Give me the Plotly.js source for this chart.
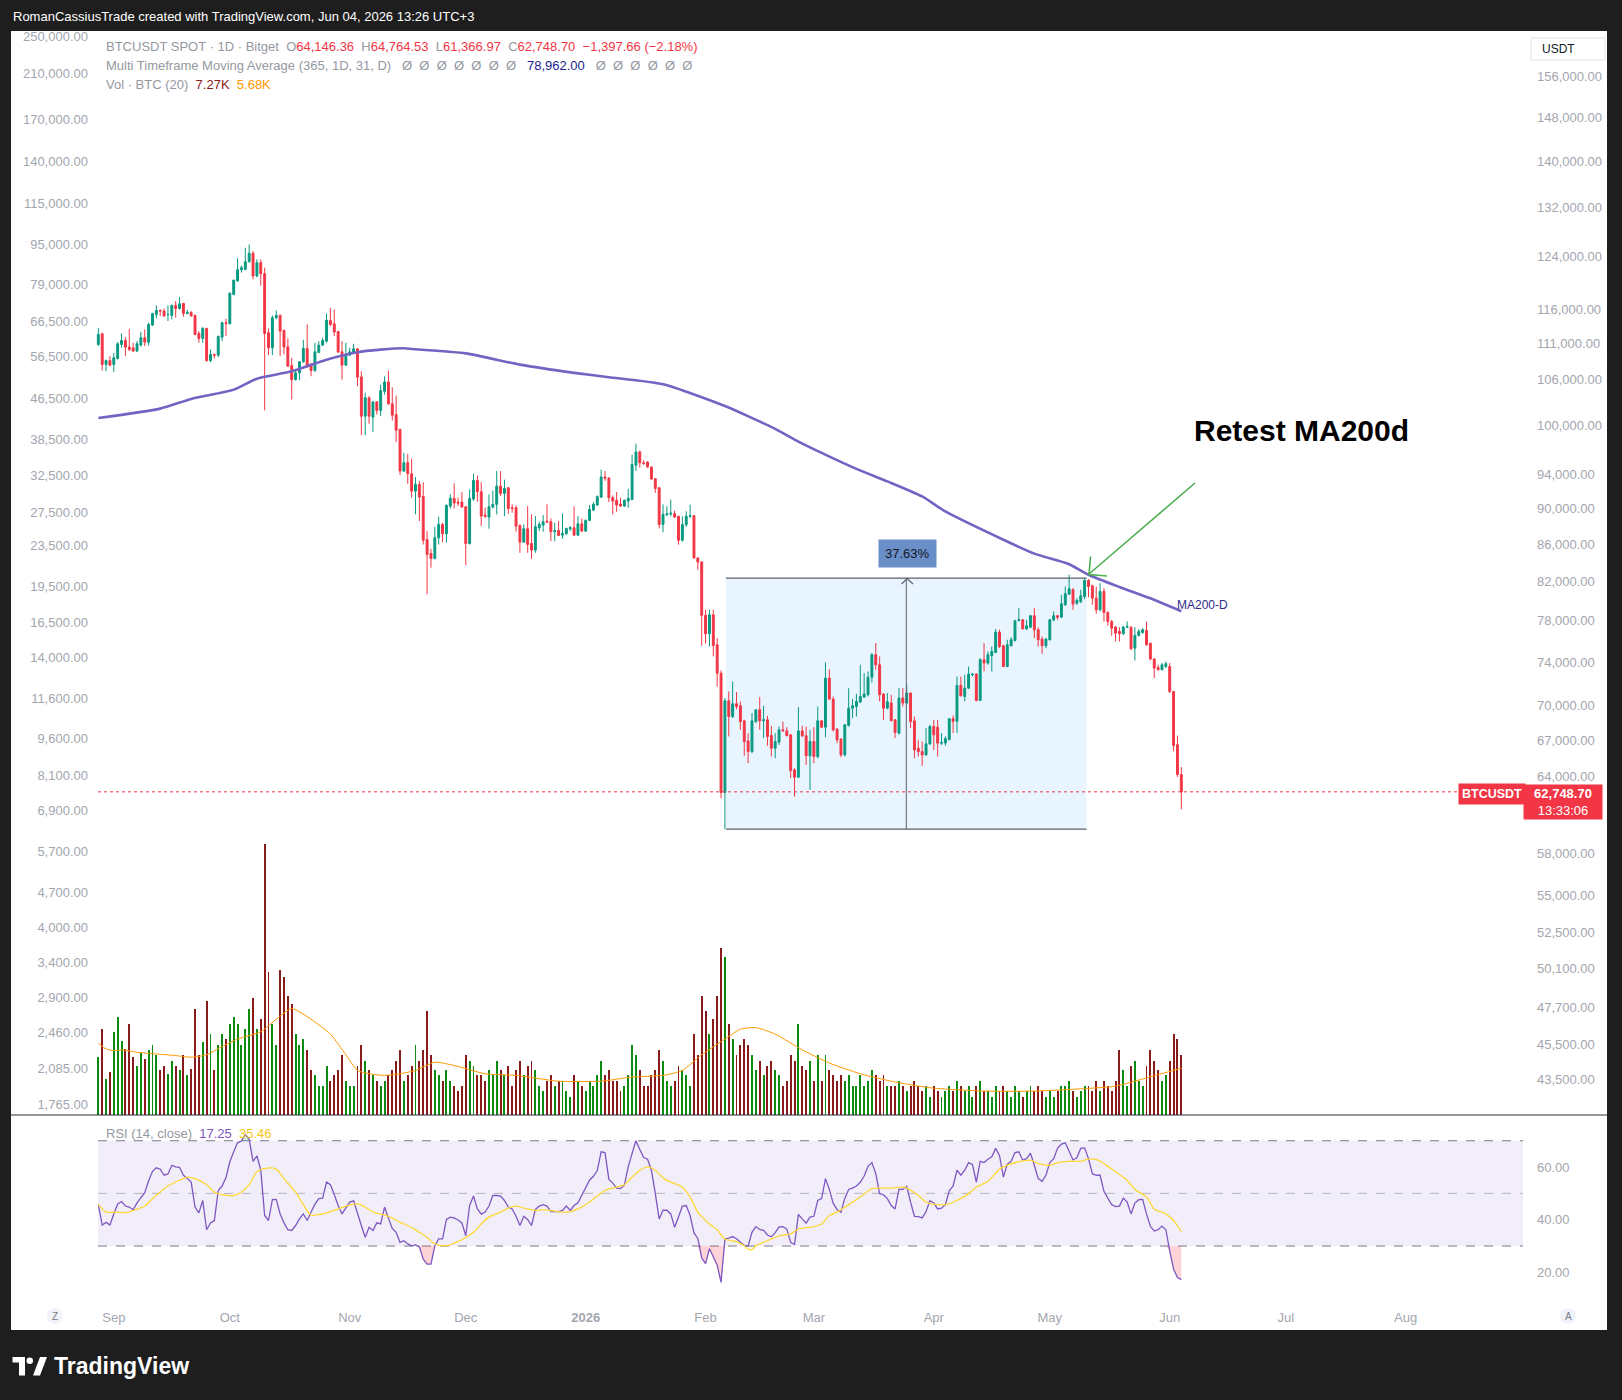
<!DOCTYPE html>
<html>
<head>
<meta charset="utf-8">
<script src="https://cdn.plot.ly/plotly-3.0.1.min.js"></script>
<style>
html,body{margin:0;padding:0;background:#1e1e1e;}
#chart{width:1622px;height:1400px;}
</style>
</head>
<body>
<div id="chart"></div>
<script>
// ================= DATA =================
// Daily BTCUSDT bars (Bitget), first bar = Aug 28, 2025
const firstBarUTC = Date.UTC(2025, 7, 28);

const openP = [
110880,112400,108090,108640,108090,108920,110880,111450,110510,110410,
109950,110790,111830,111210,113650,115200,115790,115700,115160,115060,
116530,116080,116830,115350,115500,115060,112450,111730,113170,108640,
109480,109390,111920,114000,113850,118170,120230,121950,122000,123200,
124520,120980,123050,121340,112540,110410,114720,115060,112880,110550,
107950,106040,106950,108460,110320,108090,107260,109760,110790,111350,
114340,113850,112730,109850,108000,109390,109710,110270,106400,101210,
103600,101080,103070,101960,104460,105710,102810,101410,99500,94380,
95390,94060,92010,92790,91390,86510,84990,84450,86700,88190,
87140,90270,91160,90730,90730,90200,86070,91080,93260,91930,
89240,89010,90160,90470,92590,91740,92400,90080,90080,88070,
86220,87700,86070,85350,87810,88110,88560,88490,87370,87510,
86990,87140,87700,87810,86990,88260,87440,88640,89810,90390,
91310,93670,93540,91240,90930,90510,90270,90850,91040,95080,
96700,95390,95470,94870,93470,92400,88190,89290,89350,89400,
89100,86420,88160,89100,89170,84500,84070,78550,76730,78610,
75660,72980,62690,70460,69060,70190,70010,68680,66950,66050,
68620,69650,68680,68770,67410,66330,66840,67900,67810,67470,
64530,63930,67810,67390,65690,66900,65630,68680,68130,72520,
70610,67960,67100,65770,68280,69800,69950,70340,70790,71000,
72610,74710,73760,71060,69800,70250,68770,67610,70700,70250,
71150,68680,66330,66050,65770,66700,68190,68130,66760,66770,
67060,68870,68640,71850,70850,71600,72830,72890,70490,74230,
73920,74610,74930,76890,75570,73600,75570,76080,78040,78110,
77190,77380,78510,77120,76210,75570,76150,78110,78510,78370,
79610,80700,81150,79780,79950,80460,82120,81560,80290,79110,
80980,78840,77940,77380,76960,76730,77380,77380,75340,76570,
76860,77060,75820,74300,73510,73290,73600,73600,71300,66630,
64146.36];

const highP = [
113260,112540,108780,109250,109710,111210,112450,111920,113120,111120,
111350,112690,113020,114000,115450,116530,115940,116080,116530,116670,
117180,117800,116920,115890,115700,115200,112780,113360,113260,110180,
109570,112160,114150,114580,118420,120430,123720,122620,125410,125940,
124880,123570,123570,122270,113170,115060,115790,115200,113020,111730,
109020,107400,108550,111540,113740,108320,111120,111350,111830,115350,
116180,115940,112780,111350,111120,110410,110980,110360,107170,104280,
103820,103160,103160,105370,106480,107250,104990,103900,99630,96600,
96480,95870,93660,93180,93060,87440,85490,87920,89050,88370,
90470,91620,92910,91240,91890,90270,92200,94070,93840,93060,
90080,91620,92080,94380,94380,93350,92480,90470,90350,88190,
88190,90270,89320,89130,88490,89240,90470,88860,88370,88560,
89430,87810,88000,90240,89130,88860,88750,90390,90730,91510,
94550,94380,93670,91510,91890,91240,91040,92280,96380,97730,
96870,95710,95590,94950,93540,92480,90470,90240,91010,89740,
89170,89100,89670,90430,89250,84600,84140,79110,79110,79110,
76310,73230,70700,71300,72210,71240,70400,68770,67610,69360,
69710,70790,70010,69120,68250,67610,68190,68620,68130,67500,
64660,69890,68250,68190,67900,68130,69950,68770,73980,73350,
70850,68050,67190,68400,71600,70610,71090,73760,72980,73140,
74870,75830,74550,71150,71150,71000,68830,71600,71600,71910,
71210,69060,67040,66900,68050,68340,68770,68770,67610,67340,
68930,69160,72670,72670,72830,73600,72980,72980,74390,75820,
75020,75500,77190,77120,75660,76150,76400,78110,79280,78170,
78110,78610,79280,77350,76470,76310,78170,78940,78610,80630,
81490,82710,81320,80290,81150,82360,82260,81670,81490,81840,
81320,78940,78110,77510,77380,77510,77940,77450,77380,77190,
77280,77940,75820,74390,73760,73920,74080,73920,71300,67400,
64764.53];

const lowP = [
110650,107260,107170,107860,107080,108780,110410,109250,109950,109850,
109850,110600,110650,110740,113500,114620,114970,114920,114240,114480,
114720,115940,114870,115200,114920,112200,111120,111120,108460,108410,
108920,109110,111350,112060,113740,118040,120130,121500,121850,123050,
120480,120800,119480,101960,109390,109390,114480,109250,109480,107810,
103380,105900,105950,108370,107630,106490,107100,109710,110650,111120,
113500,112060,109710,106040,107900,109250,109620,105140,98790,98790,
100230,99220,101420,101210,104030,102710,100640,97910,93900,94300,
92870,91240,89320,88560,85960,80700,83460,84350,85960,86220,
86150,90000,90000,90270,90080,83740,85950,90850,90770,88000,
88940,87700,90000,89320,91430,89130,89390,89510,87370,85060,
86150,85060,84410,85060,87440,87370,88370,86330,86330,86880,
86590,87070,87440,86880,86900,87370,87330,88560,89700,90300,
91200,93220,90730,89320,89620,90200,90160,90080,90950,94380,
94790,95160,94790,93350,91810,87740,87330,89100,89100,88910,
85940,86300,87900,88910,84410,83250,75570,75760,75500,74550,
71750,62240,59840,67330,68920,69710,67900,65690,65080,65910,
68480,67900,67190,66530,65630,65490,66610,67760,67330,63850,
62370,63850,67270,64940,62900,65080,65490,68050,67270,70550,
67760,66760,65580,65630,68190,68920,69060,70250,70700,70850,
72120,73290,70400,68770,69710,68620,67190,67500,69950,70100,
68050,65490,65630,64860,65690,66610,66190,65630,66610,66550,
67000,67630,67630,70850,70400,71510,72670,70400,70460,73140,
73760,73140,74860,75340,73540,73540,75500,75980,77940,77120,
77120,77280,76310,75500,74800,75340,76080,77940,78110,78270,
79510,80630,79110,79610,79780,80190,80390,79610,78710,78940,
77940,77510,76530,75980,75980,76630,77280,75180,74170,76470,
76730,75570,74170,72520,73230,73230,73450,71150,66070,63950,
61366.97];

const closeP = [
112300,108090,108640,108000,109020,110980,111450,110510,110180,109950,
110980,111830,111210,113740,115300,115790,115700,114970,115200,116530,
116080,116780,115350,115500,114970,112300,111730,113170,108640,109480,
109390,112020,114000,113850,118380,120330,121950,122270,123200,124520,
120980,123050,121340,112450,110410,114720,115060,112780,110510,107860,
106040,106950,108460,110320,107860,107260,109850,110790,111450,114340,
113740,112640,109810,108000,109480,109850,110270,106360,101210,103600,
101210,103070,101960,104560,105710,102810,101330,99420,94380,95390,
94060,92010,92790,91310,86440,84880,84450,86700,88190,87140,
90350,91160,90620,90620,90160,86070,91160,93260,91930,89130,
89090,90200,90470,92590,91740,92320,90000,90000,88000,86220,
87700,85960,85350,87920,88190,88490,88450,87370,87510,86960,
87180,87740,87810,86990,88260,87440,88640,89890,90470,91350,
93670,93540,91240,90850,90390,90270,90930,91160,95160,96700,
95390,95270,94870,93430,92320,88190,89320,89400,89450,89020,
86420,88160,89100,89170,84500,84070,78550,76730,78610,75600,
72980,62690,70460,69060,70190,69950,68620,66900,66050,68680,
69650,68680,68770,67330,66330,66900,67900,67810,67410,64470,
63930,67810,67390,65690,66900,65630,68680,68130,72520,70610,
67900,67040,65770,68340,69800,70010,70400,70850,71060,72610,
74710,73760,71000,69800,70370,68710,67670,70700,70250,71150,
68620,66190,66050,65770,66700,68190,67470,66760,66810,67140,
68870,68640,71850,70910,71600,72890,72890,70490,74230,73920,
74710,75020,76890,75500,73600,75660,76150,78010,78110,77220,
77510,78510,77120,76150,75570,76210,78110,78510,78370,79720,
80740,81250,79680,80050,80530,82120,81490,80290,79110,80980,
78840,77940,77280,76790,76730,77380,77450,75280,76570,76960,
77120,75660,74300,73450,73290,73760,73860,71300,66570,64146.36,
62748.70];

// 200-day moving average (read at bar indices)
const ma200Idx = [0,16,24,35,41,50,59,67,73,79,82,95,109,123,132,146,162,175,180,187,196,204,213,219,234,242,251,256,264,272,280];
const ma200Val = [100980,102190,103460,104690,106160,107150,108760,109800,110150,110340,110200,109630,108070,106950,106360,105400,102520,99590,98240,96590,94640,93150,91380,89650,86480,84970,83830,82720,81440,80270,78962];

// Volume (thousand BTC), one per bar
const volumeK = [
7.0,10.4,4.4,5.2,10.1,11.9,9.0,8.0,11.0,7.0,
6.0,7.5,6.8,7.9,8.5,7.3,5.5,6.0,5.0,6.6,
6.0,5.4,7.3,4.8,5.6,12.9,7.3,8.8,13.8,9.8,
5.4,8.5,9.8,9.2,11.0,11.9,11.0,8.5,10.4,12.9,
14.2,10.4,11.6,32.8,17.3,11.0,8.5,17.6,16.7,14.4,
13.5,9.8,8.5,9.2,7.9,5.4,4.8,3.5,3.5,6.0,
4.1,4.8,5.4,7.3,4.1,3.5,3.5,6.0,8.5,6.6,
5.4,4.8,4.1,3.5,4.1,4.8,5.4,6.6,7.9,4.1,
4.8,6.0,8.5,6.6,7.9,12.6,7.3,5.4,4.8,4.1,
5.4,4.1,3.5,2.9,3.5,7.3,6.6,6.0,4.8,4.8,
4.1,5.4,4.8,6.6,5.4,4.8,6.0,3.5,5.4,6.6,
4.8,6.0,6.6,5.4,3.5,2.9,4.1,4.8,3.5,4.1,
4.1,2.9,2.2,4.8,4.1,3.5,2.9,4.1,3.5,4.8,
6.6,4.8,5.4,4.1,4.1,2.9,3.5,4.8,8.5,7.3,
5.4,3.5,3.5,4.8,5.4,7.9,6.6,4.1,3.5,4.1,
6.0,5.4,4.8,3.5,9.8,7.3,14.4,12.6,9.8,11.6,
14.4,20.3,19.2,11.0,9.2,7.3,8.5,9.2,8.5,7.3,
5.4,6.6,4.8,6.0,6.6,5.4,4.8,3.5,4.1,7.3,
6.6,11.0,6.0,5.4,6.6,4.1,7.3,4.1,7.3,5.4,
4.8,4.1,4.8,4.1,4.8,3.5,3.5,4.8,3.5,4.1,
5.4,4.8,4.1,4.8,3.5,3.5,3.5,4.1,3.5,2.9,
3.5,4.1,3.5,2.9,3.5,2.2,3.5,2.9,2.2,2.9,
3.5,2.9,4.1,3.5,2.9,3.5,2.2,3.5,4.1,2.9,
2.9,2.2,3.5,2.9,3.5,2.9,2.2,3.5,2.9,2.2,
2.9,3.5,2.9,3.5,2.9,2.2,2.9,2.2,2.9,3.5,
3.5,4.1,2.9,2.2,2.9,3.5,3.5,2.9,4.1,2.9,
4.1,3.5,2.9,4.1,7.9,5.4,3.5,6.0,6.6,4.1,
3.5,6.0,7.9,6.6,5.4,4.1,4.8,6.6,9.8,9.2,
7.27];

// Volume MA(20) (read at bar indices)
const volMaIdx = [0,2,4,6,10,15,20,24,28,32,36,42,46,50,55,60,64,67,70,74,78,82,87,92,100,108,119,130,138,146,151,156,162,166,170,175,182,189,197,205,215,229,242,255,263,271,280];
const volMaVal = [8.7,8.0,7.8,7.9,7.6,7.4,7.2,7.0,7.3,8.3,9.2,10.1,11.6,12.9,11.6,9.8,7.3,5.4,5.0,4.8,5.0,5.4,6.4,6.0,5.0,4.8,4.1,4.1,4.6,4.8,5.4,7.3,9.2,10.4,10.6,9.8,7.9,6.3,5.0,4.1,3.3,2.9,2.9,3.2,3.5,4.5,5.68];

// RSI(14) daily
const rsi = [
45.7,38.0,39.0,38.0,42.2,46.0,46.9,45.2,44.8,43.8,
46.4,48.5,50.3,54.8,58.4,59.7,59.2,56.9,57.4,60.7,
60.1,59.9,56.9,55.7,54.3,44.8,42.6,47.3,36.2,38.8,
39.7,51.1,52.8,56.0,62.0,65.8,69.2,69.9,72.4,70.6,
62.2,64.3,58.8,41.6,39.7,47.6,47.7,42.2,38.8,36.2,
35.9,37.8,40.3,42.2,39.7,42.9,45.9,48.0,48.2,54.3,
53.3,49.6,45.4,42.2,44.4,46.7,47.2,42.2,37.8,33.3,
37.1,35.9,38.8,38.4,44.8,40.6,36.7,35.2,31.4,32.0,
30.8,30.1,30.4,29.7,25.0,23.1,23.1,30.1,32.7,32.7,
40.1,41.0,40.7,39.9,38.8,33.9,45.4,49.0,44.1,42.1,
42.9,45.2,49.2,49.2,49.0,47.3,44.8,44.1,41.3,37.8,
41.3,40.1,37.8,43.9,45.2,45.7,45.2,43.1,43.1,43.1,
43.5,45.2,43.5,45.4,46.4,49.2,52.0,55.0,56.5,58.7,
65.8,65.5,55.3,53.9,52.0,51.8,53.1,60.1,65.2,70.0,
66.7,63.6,63.0,58.8,49.9,40.3,43.6,43.6,42.2,37.1,
41.0,45.2,45.4,41.6,35.0,32.9,25.5,23.3,29.0,25.6,
22.8,16.2,32.6,33.0,33.6,32.8,31.5,30.2,30.0,35.2,
37.4,36.3,36.0,34.2,33.5,35.1,37.3,37.4,36.4,31.4,
30.6,42.0,40.3,38.7,41.0,41.3,47.3,48.0,55.6,51.5,
46.2,43.9,42.9,48.2,51.5,52.0,52.8,54.2,56.6,60.3,
61.7,57.5,49.9,49.5,48.0,45.4,44.1,51.5,51.5,52.7,
46.7,41.3,41.2,40.7,43.1,47.2,46.4,44.1,44.4,45.7,
51.0,52.8,58.8,56.9,58.8,61.7,61.0,54.3,62.2,61.7,
63.0,63.9,67.1,64.3,56.2,61.1,62.2,65.5,65.8,62.6,
63.2,65.3,60.7,55.6,54.6,56.9,61.7,63.2,67.1,68.7,
69.2,65.8,62.7,63.5,67.1,67.3,63.2,57.5,56.9,56.9,
50.8,48.2,45.7,45.0,45.2,48.2,46.7,42.2,46.3,47.6,
47.7,42.2,37.5,35.7,36.2,37.6,36.2,28.2,21.2,18.0,
17.25];

// RSI moving average (read at bar indices)
const rsiMaIdx = [0,2,5,7,9,12,14,16,18,21,23,25,28,30,32,35,37,39,41,44,46,48,51,53,55,58,60,62,64,67,69,71,74,76,78,81,83,85,87,90,92,94,97,99,101,104,106,108,110,113,115,117,120,122,124,127,129,131,134,136,138,140,142,144,146,148,151,153,155,158,160,162,165,167,168,169,170,173,176,179,181,184,187,189,191,193,195,197,200,202,205,208,209,212,214,217,220,222,225,227,230,233,235,238,241,243,246,248,251,254,256,258,260,263,266,268,271,273,276,278,280];
const rsiMaVal = [45.7,42.9,42.9,42.6,43.5,45.2,48.0,50.5,52.8,55.0,56.2,55.6,53.3,50.5,49.5,49.2,50.5,53.3,58.2,59.7,59.2,55.6,50.5,45.7,41.8,42.2,43.1,44.1,45.2,46.0,44.8,42.9,41.8,40.6,39.0,37.1,35.2,33.3,30.8,30.1,31.1,32.4,35.2,38.4,41.0,42.9,44.4,45.2,44.4,43.5,43.8,43.5,42.9,43.1,44.1,46.7,49.0,51.1,52.4,53.3,56.2,58.8,60.1,58.8,55.9,54.3,52.4,48.6,42.9,38.4,36.2,32.7,31.7,30.1,28.8,28.6,30.1,32.0,33.9,34.6,36.5,37.1,38.4,41.6,42.9,44.8,46.7,48.6,51.8,52.0,52.0,52.4,52.0,49.2,46.7,45.7,46.0,47.3,49.9,52.4,54.6,59.2,60.7,62.0,62.6,61.3,60.7,61.7,62.2,62.2,63.0,62.9,61.3,58.2,55.0,51.5,48.6,44.1,42.2,39.7,35.46];

// Axis tick labels
const priceTicks = [156000,148000,140000,132000,124000,116000,111000,106000,100000,94000,90000,86000,82000,78000,74000,70000,67000,64000,58000,55000,52500,50100,47700,45500,43500];
const leftTicks = [250000,210000,170000,140000,115000,95000,79000,66500,56500,46500,38500,32500,27500,23500,19500,16500,14000,11600,9600,8100,6900,5700,4700,4000,3400,2900,2460,2085,1765];
const rsiTicks = [60,40,20];
const monthTicks = ['2025-09-01','2025-10-01','2025-11-01','2025-12-01','2026-01-01','2026-02-01','2026-03-01','2026-04-01','2026-05-01','2026-06-01','2026-07-01','2026-08-01'];
const monthLabels = ['Sep','Oct','Nov','Dec','<b>2026</b>','Feb','Mar','Apr','May','Jun','Jul','Aug'];

// Price-range drawing (time/price anchors)
const rangeTool = {startIdx:162.3, endIdx:255.5, low:59840, high:82360};

// ================= HELPERS =================
const W = 1622, H = 1400;
const px = x => x / W;
const py = y => 1 - y / H;
function dateAt(i){
  return new Date(firstBarUTC + i*86400000).toISOString().slice(0,16).replace('T',' ');
}
function fmt2(v){
  const neg = v < 0; v = Math.abs(v);
  const s = v.toFixed(2); const [a,b] = s.split('.');
  return (neg?'\u2212':'') + a.replace(/\B(?=(\d{3})+(?!\d))/g, ',') + '.' + b;
}
const dates = openP.map((_, i) => dateAt(i));
const n = closeP.length;

const GREEN = '#089981', RED = '#F23645';
const AXIS_TXT = '#a3a6af';
const FONT = 'Liberation Sans, Arial, sans-serif';

// ================= TRACES =================
const traces = [];
traces.push({
  type:'bar', x:dates.slice(0, volumeK.length), y:volumeK, xaxis:'x', yaxis:'y3',
  width:0.5*86400000,
  marker:{color:volumeK.map((_, i) => closeP[i] >= openP[i] ? '#0d8a12' : '#8a1b1b'), line:{width:0}},
  hoverinfo:'skip'
});
traces.push({type:'scatter', mode:'lines', x:volMaIdx.map(dateAt), y:volMaVal, xaxis:'x', yaxis:'y3',
  line:{color:'#ff9800', width:1, shape:'spline', smoothing:0.6}, hoverinfo:'skip'});
traces.push({
  type:'candlestick', x:dates, open:openP, high:highP, low:lowP, close:closeP,
  xaxis:'x', yaxis:'y', hoverinfo:'skip', whiskerwidth:0,
  increasing:{line:{color:GREEN, width:1}, fillcolor:GREEN},
  decreasing:{line:{color:RED, width:1}, fillcolor:RED}
});
traces.push({
  type:'scatter', mode:'lines', x:ma200Idx.map(dateAt), y:ma200Val,
  xaxis:'x', yaxis:'y', line:{color:'#7264c2', width:2.6, shape:'spline', smoothing:0.6}, hoverinfo:'skip'
});
// dummy trace to register the left label scale
traces.push({type:'scatter', mode:'lines', x:[dates[0]], y:[null], xaxis:'x', yaxis:'y4', hoverinfo:'skip'});

// RSI fills
traces.push({type:'scatter', mode:'lines', x:dates, y:rsi.map(() => 30), yaxis:'y5', line:{width:0}, hoverinfo:'skip'});
traces.push({type:'scatter', mode:'lines', x:dates, y:rsi.map(v => Math.min(v, 30)), yaxis:'y5', line:{width:0},
  fill:'tonexty', fillcolor:'rgba(242,54,69,0.22)', hoverinfo:'skip'});
traces.push({type:'scatter', mode:'lines', x:dates, y:rsi.map(() => 70), yaxis:'y5', line:{width:0}, hoverinfo:'skip'});
traces.push({type:'scatter', mode:'lines', x:dates, y:rsi.map(v => Math.max(v, 70)), yaxis:'y5', line:{width:0},
  fill:'tonexty', fillcolor:'rgba(8,153,129,0.18)', hoverinfo:'skip'});
traces.push({type:'scatter', mode:'lines', x:dates, y:rsi, yaxis:'y5', line:{color:'#7e57c2', width:1.3}, hoverinfo:'skip'});
traces.push({type:'scatter', mode:'lines', x:rsiMaIdx.map(dateAt), y:rsiMaVal, yaxis:'y5',
  line:{color:'#fdd835', width:1.3, shape:'spline', smoothing:0.8}, hoverinfo:'skip'});

// ================= LAYOUT =================
const lastC = closeP[n-1], lastO = openP[n-1], lastH = highP[n-1], lastL = lowP[n-1];
const chg = lastC - closeP[n-2];
const chgPct = chg / closeP[n-2] * 100;
const G = s => '<span style="color:#9598a1">' + s + '</span>';
const C = (col, s) => '<span style="color:' + col + '">' + s + '</span>';
const sp = '\u00a0\u00a0';

const legend1 = G('BTCUSDT SPOT · 1D · Bitget') + sp + G('O') + C(RED, fmt2(lastO)) + sp + G('H') + C(RED, fmt2(lastH)) +
  sp + G('L') + C(RED, fmt2(lastL)) + sp + G('C') + C(RED, fmt2(lastC)) + sp +
  C(RED, fmt2(chg) + ' (' + (chgPct < 0 ? '\u2212' : '') + Math.abs(chgPct).toFixed(2) + '%)');
const phi = '\u00d8';
const legend2 = G('Multi Timeframe Moving Average (365, 1D, 31, D)' + '\u00a0\u00a0\u00a0' + Array(7).fill(phi).join(sp)) + '\u00a0\u00a0\u00a0' +
  C('#1b1f8f', fmt2(ma200Val[ma200Val.length-1])) + '\u00a0\u00a0\u00a0' + G(Array(6).fill(phi).join(sp));
const legend3 = G('Vol · BTC (20)') + sp + C('#8a1b1b', volumeK[volumeK.length-1].toFixed(2) + 'K') + sp +
  C('#ff9800', volMaVal[volMaVal.length-1].toFixed(2) + 'K');
const legendRsi = G('RSI (14, close)') + sp + C('#7e57c2', rsi[n-1].toFixed(2)) + sp + C('#f5c518', rsiMaVal[rsiMaVal.length-1].toFixed(2));

const PL = 98, PR = 1523; // pane drawing extents (px)
const shapes = [
  // white chart panel
  {type:'rect', xref:'paper', yref:'paper', x0:px(11), x1:px(1607), y0:py(1330), y1:py(31), fillcolor:'#ffffff', line:{width:0}, layer:'below'},
  // RSI band + levels
  {type:'rect', xref:'paper', yref:'y5', x0:px(PL), x1:px(PR), y0:30, y1:70, fillcolor:'rgba(126,87,194,0.10)', line:{width:0}, layer:'below'},
  {type:'line', xref:'paper', yref:'y5', x0:px(PL), x1:px(PR), y0:70, y1:70, line:{color:'#787b86', width:1, dash:'dash'}, layer:'below'},
  {type:'line', xref:'paper', yref:'y5', x0:px(PL), x1:px(PR), y0:50, y1:50, line:{color:'rgba(120,123,134,0.5)', width:1, dash:'dash'}, layer:'below'},
  {type:'line', xref:'paper', yref:'y5', x0:px(PL), x1:px(PR), y0:30, y1:30, line:{color:'#787b86', width:1, dash:'dash'}, layer:'below'},
  // pane separator
  {type:'line', xref:'paper', yref:'paper', x0:px(11), x1:px(1607), y0:py(1115), y1:py(1115), line:{color:'#2a2e39', width:1}},
  // price range box
  {type:'rect', xref:'x', yref:'y', x0:dateAt(rangeTool.startIdx), x1:dateAt(rangeTool.endIdx), y0:rangeTool.low, y1:rangeTool.high,
    fillcolor:'rgba(33,150,243,0.10)', line:{width:0}, layer:'below'},
  {type:'line', xref:'x', yref:'y', x0:dateAt(rangeTool.startIdx), x1:dateAt(rangeTool.endIdx), y0:rangeTool.high, y1:rangeTool.high, line:{color:'#5d606b', width:1.2}},
  {type:'line', xref:'x', yref:'y', x0:dateAt(rangeTool.startIdx), x1:dateAt(rangeTool.endIdx), y0:rangeTool.low, y1:rangeTool.low, line:{color:'#5d606b', width:1.2}},
  {type:'line', xref:'x', yref:'y', x0:dateAt((rangeTool.startIdx+rangeTool.endIdx)/2), x1:dateAt((rangeTool.startIdx+rangeTool.endIdx)/2), y0:rangeTool.low, y1:rangeTool.high, line:{color:'#5d606b', width:1}},
  // arrow head of range tool
  {type:'path', xref:'paper', yref:'paper', path:`M ${px(901.5)} ${py(584)} L ${px(907.2)} ${py(578.5)} L ${px(913)} ${py(584)}`, line:{color:'#5d606b', width:1.2}},
  // last price dotted line
  {type:'line', xref:'paper', yref:'y', x0:px(PL), x1:px(1459), y0:lastC, y1:lastC, line:{color:RED, width:1, dash:'dot'}},
  // green annotation arrow
  {type:'line', xref:'paper', yref:'paper', x0:px(1195), y0:py(483), x1:px(1089), y1:py(574), line:{color:'#4caf50', width:1.6}},
  {type:'path', xref:'paper', yref:'paper', path:`M ${px(1090.5)} ${py(556.5)} L ${px(1089)} ${py(574.5)} L ${px(1107)} ${py(576)}`, line:{color:'#4caf50', width:1.6}},
  // TradingView logo
  {type:'rect', xref:'paper', yref:'paper', x0:px(12.5), x1:px(25), y0:py(1362.5), y1:py(1357), fillcolor:'#ffffff', line:{width:0}},
  {type:'rect', xref:'paper', yref:'paper', x0:px(19), x1:px(25), y0:py(1375.5), y1:py(1357), fillcolor:'#ffffff', line:{width:0}},
  {type:'circle', xref:'paper', yref:'paper', x0:px(26.5), x1:px(33), y0:py(1364), y1:py(1357.5), fillcolor:'#ffffff', line:{width:0}},
  {type:'path', xref:'paper', yref:'paper', path:`M ${px(33)} ${py(1375.5)} L ${px(40)} ${py(1357)} L ${px(47)} ${py(1357)} L ${px(40)} ${py(1375.5)} Z`, fillcolor:'#ffffff', line:{width:0}},
  // Z / A buttons
  {type:'circle', xref:'paper', yref:'paper', x0:px(47), x1:px(63), y0:py(1324), y1:py(1308), fillcolor:'#f0f3fa', line:{width:0}},
  {type:'circle', xref:'paper', yref:'paper', x0:px(1560), x1:px(1576), y0:py(1324), y1:py(1308), fillcolor:'#f0f3fa', line:{width:0}},
  // USDT box
  {type:'rect', xref:'paper', yref:'paper', x0:px(1531), x1:px(1605), y0:py(60), y1:py(38), fillcolor:'#ffffff', line:{color:'#e0e3eb', width:1}}
];

const ann = (o) => Object.assign({xref:'paper', yref:'paper', showarrow:false, font:{family:FONT, size:13, color:AXIS_TXT}}, o);
const annotations = [
  ann({x:px(11), y:py(16), xanchor:'left', yanchor:'middle', text:'RomanCassiusTrade created with TradingView.com, Jun 04, 2026 13:26 UTC+3', font:{family:FONT, size:13, color:'#ffffff'}}),
  ann({x:px(104), y:py(46.5), xanchor:'left', yanchor:'middle', text:legend1}),
  ann({x:px(104), y:py(65), xanchor:'left', yanchor:'middle', text:legend2}),
  ann({x:px(104), y:py(84.5), xanchor:'left', yanchor:'middle', text:legend3}),
  ann({x:px(104), y:py(1133), xanchor:'left', yanchor:'middle', text:legendRsi}),
  ann({x:px(1192), y:py(431), xanchor:'left', yanchor:'middle', text:'<b>Retest MA200d</b>', font:{family:FONT, size:30, color:'#000000'}}),
  ann({x:px(1175), y:py(605), xanchor:'left', yanchor:'middle', text:'MA200-D', font:{family:FONT, size:12, color:'#322a8a'}}),
  ann({x:px(907), y:py(553), xanchor:'center', yanchor:'middle', text:'37.63%', bgcolor:'#6a8ec8', borderpad:6, font:{family:FONT, size:13, color:'#131722'}}),
  ann({x:px(1491.5), y:py(794), xanchor:'center', yanchor:'middle', text:'<b>BTCUSDT</b>', bgcolor:RED, borderpad:3, font:{family:FONT, size:12.5, color:'#ffffff'}}),
  ann({x:px(1563), y:py(802), xanchor:'center', yanchor:'middle', text:'<b>' + fmt2(lastC) + '</b><br>13:33:06', bgcolor:RED, borderpad:3, width:72, height:28, font:{family:FONT, size:13, color:'#ffffff'}}),
  ann({x:px(1540), y:py(49), xanchor:'left', yanchor:'middle', text:'USDT', font:{family:FONT, size:12, color:'#131722'}}),
  ann({x:px(52), y:py(1366), xanchor:'left', yanchor:'middle', text:'<b>TradingView</b>', font:{family:FONT, size:23, color:'#ffffff'}}),
  ann({x:px(55), y:py(1316), xanchor:'center', yanchor:'middle', text:'Z', font:{family:FONT, size:10, color:'#787b86'}}),
  ann({x:px(1568), y:py(1316), xanchor:'center', yanchor:'middle', text:'A', font:{family:FONT, size:10, color:'#787b86'}})
];

const mainDomain = [py(1115), py(31)];
const layout = {
  width:W, height:H, margin:{l:0, r:0, t:0, b:0},
  paper_bgcolor:'#1e1e1e', plot_bgcolor:'rgba(0,0,0,0)',
  showlegend:false, hovermode:false, dragmode:false,
  font:{family:FONT, size:13, color:AXIS_TXT},
  boxgap:0.3, bargap:0,
  xaxis:{type:'date', domain:[px(95), px(1524)], range:['2025-08-27 03:20','2026-08-31 14:24'], anchor:'y5',
    tickmode:'array', tickvals:monthTicks, ticktext:monthLabels, showgrid:false, zeroline:false, showline:false,
    ticks:'', ticklabelstandoff:8, tickfont:{family:FONT, size:13, color:AXIS_TXT}, rangeslider:{visible:false}, fixedrange:true},
  yaxis:{type:'log', domain:mainDomain, range:[Math.log10(41590), Math.log10(165240)], side:'right', anchor:'x',
    tickmode:'array', tickvals:priceTicks, ticktext:priceTicks.map(fmt2), showgrid:false, zeroline:false, showline:false,
    ticks:'', ticklabelstandoff:12, tickfont:{family:FONT, size:13, color:AXIS_TXT}, fixedrange:true},
  yaxis3:{overlaying:'y', range:[0, 131.4], visible:false, fixedrange:true},
  yaxis4:{overlaying:'y', type:'log', side:'left', anchor:'x', range:[Math.log10(1678), Math.log10(255840)],
    tickmode:'array', tickvals:leftTicks, ticktext:leftTicks.map(fmt2), showgrid:false, zeroline:false, showline:false,
    ticks:'', ticklabelstandoff:6, tickfont:{family:FONT, size:13, color:AXIS_TXT}, fixedrange:true},
  yaxis5:{domain:[py(1300), py(1116)], range:[9.5, 79.4], side:'right', anchor:'x',
    tickmode:'array', tickvals:rsiTicks, ticktext:rsiTicks.map(fmt2), showgrid:false, zeroline:false, showline:false,
    ticks:'', ticklabelstandoff:12, tickfont:{family:FONT, size:13, color:AXIS_TXT}, fixedrange:true},
  shapes:shapes, annotations:annotations
};

Plotly.newPlot('chart', traces, layout, {staticPlot:true, displayModeBar:false});
</script>
</body>
</html>
